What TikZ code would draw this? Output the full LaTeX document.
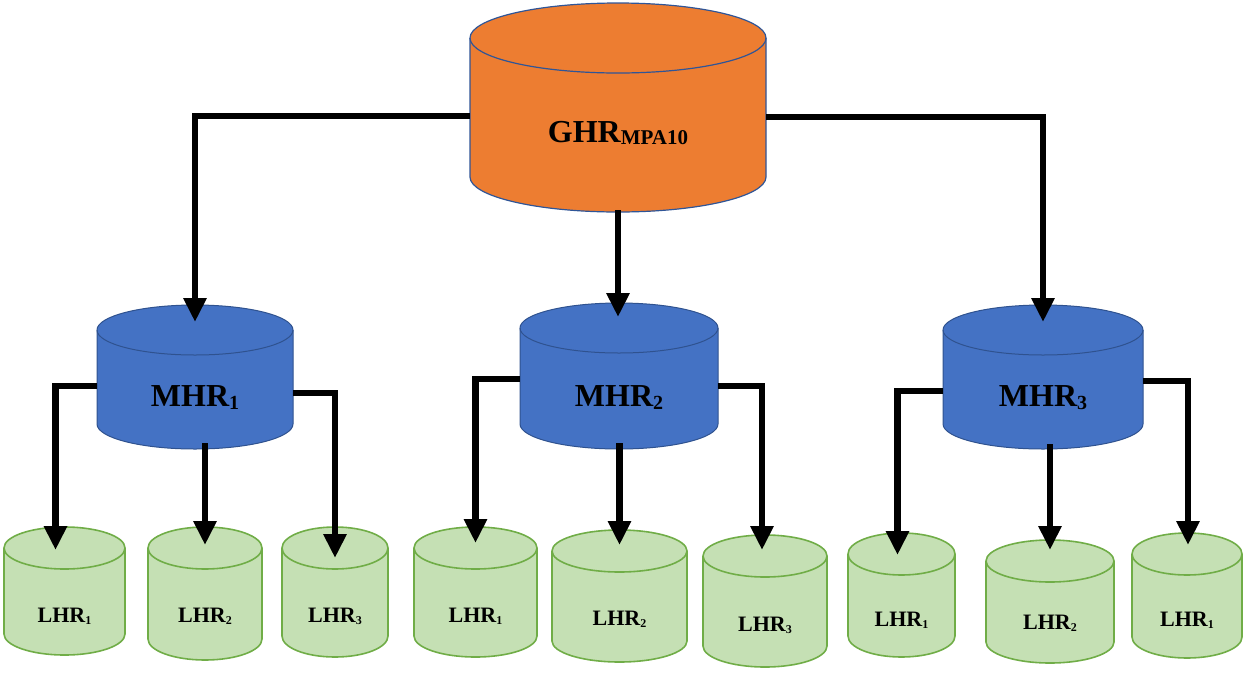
\documentclass[tikz,border=0pt]{standalone}
\usepackage{fontspec}
\setmainfont{Liberation Serif}
\usetikzlibrary{arrows.meta,calc}
\definecolor{gorange}{HTML}{ED7D31}
\definecolor{gedge}{HTML}{2F5597}
\definecolor{mblue}{HTML}{4472C4}
\definecolor{medge}{HTML}{2F528F}
\definecolor{lgreen}{HTML}{C5E0B4}
\definecolor{ledge}{HTML}{70AD47}
\tikzset{
  gcyl/.style={fill=gorange,draw=gedge,line width=1.2pt},
  mcyl/.style={fill=mblue,draw=medge,line width=1pt},
  lcyl/.style={fill=lgreen,draw=ledge,line width=1.6pt},
  gcyl text/.style={inner sep=0pt,text height=21pt,text depth=0pt,font=\fontsize{32}{34}\selectfont\bfseries},
  mcyl text/.style={inner sep=0pt,text height=21pt,text depth=0pt,font=\fontsize{32}{34}\selectfont\bfseries},
  lcyl text/.style={inner sep=0pt,text height=14.5pt,text depth=0pt,font=\fontsize{22}{24}\selectfont\bfseries},
  conn/.style={draw=black,line width=6.5pt,-{Triangle[width=22pt,length=24pt]}}
}
% #1 style, #2 name, #3 cx, #4 top, #5 bottom, #6 half width, #7 ry, #8 text y, #9 text
\newcommand\drawcyl[9]{%
  \path[#1] ({#3-#6},{#4+#7}) -- ({#3-#6},{#5-#7})
     arc[start angle=180,end angle=360,x radius=#6pt,y radius=#7pt]
     -- ({#3+#6},{#4+#7})
     arc[start angle=0,end angle=180,x radius=#6pt,y radius=#7pt] -- cycle;
  \path[#1,fill=none] ({#3-#6},{#4+#7})
     arc[start angle=180,end angle=360,x radius=#6pt,y radius=#7pt];
  \coordinate (#2-top) at (#3,{#4+#7});
  \coordinate (#2-bot) at (#3,#5);
  \node[#1 text,minimum width={2*#6pt}] (#2) at (#3,#8) {#9};
}
\newcommand\gsub[1]{\raisebox{-2pt}{\fontsize{21}{22}\selectfont #1}}
\newcommand\msub[1]{\raisebox{-3pt}{\fontsize{20}{22}\selectfont #1}}
\newcommand\lsub[1]{\raisebox{-2pt}{\fontsize{12}{14}\selectfont #1}}
\begin{document}
\begin{tikzpicture}[x=1pt,y=-1pt]
\useasboundingbox (0,0) rectangle (1250,673);
% top
\drawcyl{gcyl}{ghr}{618}{3}{212}{148}{35}{132}{GHR\gsub{MPA10}}
% middle
\drawcyl{mcyl}{mhr1}{195}{305}{449}{98}{25}{396}{MHR\msub{1}}
\drawcyl{mcyl}{mhr2}{619}{303}{449}{99}{25}{396}{MHR\msub{2}}
\drawcyl{mcyl}{mhr3}{1043}{305}{449}{100}{25}{396}{MHR\msub{3}}
% leaves
\drawcyl{lcyl}{l11}{64.5}{527}{655}{60.5}{21}{615}{LHR\lsub{1}}
\drawcyl{lcyl}{l12}{205}{527}{660}{57}{21}{615}{LHR\lsub{2}}
\drawcyl{lcyl}{l13}{335}{527}{657}{53}{21}{615}{LHR\lsub{3}}
\drawcyl{lcyl}{l21}{475.5}{527}{657}{61.5}{21}{615}{LHR\lsub{1}}
\drawcyl{lcyl}{l22}{619.5}{530}{662}{67.5}{21}{618}{LHR\lsub{2}}
\drawcyl{lcyl}{l23}{765}{535}{667}{62}{21}{624}{LHR\lsub{3}}
\drawcyl{lcyl}{l31}{901.5}{533}{657}{53.5}{21}{619}{LHR\lsub{1}}
\drawcyl{lcyl}{l32}{1050}{540}{663}{64}{21}{622}{LHR\lsub{2}}
\drawcyl{lcyl}{l33}{1187}{533}{658}{55}{21}{619}{LHR\lsub{1}}
% connectors from top
\draw[conn] ($(ghr.west)+(0,-16)$) -| ($(mhr1-top)+(0,-8)$);
\draw[conn] ($(ghr.east)+(0,-15)$) -| ($(mhr3-top)+(0,-8)$);
\draw[conn] ($(ghr-bot)+(0,-2)$) -- ($(ghr-bot |- mhr2-top)+(0,-11)$);
% MHR1
\draw[conn] ($(mhr1.west)+(0,-10)$) -| ($(l11-top)+(-9,2)$);
\draw[conn] ($(l12-top |- mhr1-bot)+(0,-6)$) -- ($(l12-top)+(0,-3)$);
\draw[conn] ($(mhr1.east)+(0,-3)$) -| ($(l13-top)+(0,10)$);
% MHR2
\draw[conn] ($(mhr2.west)+(0,-17)$) -| ($(l21-top)+(0,-5)$);
\draw[conn] ($(l22-top |- mhr2-bot)+(0,-6)$) -- ($(l22-top)+(0,-6)$);
\draw[conn] ($(mhr2.east)+(0,-10)$) -| ($(l23-top)+(-3,-6)$);
% MHR3
\draw[conn] ($(mhr3.west)+(0,-5)$) -| ($(l31-top)+(-4,1)$);
\draw[conn] ($(l32-top |- mhr3-bot)+(0,-5)$) -- ($(l32-top)+(0,-11)$);
\draw[conn] ($(mhr3.east)+(0,-15)$) -| ($(l33-top)+(1,-9)$);
\end{tikzpicture}
\end{document}
